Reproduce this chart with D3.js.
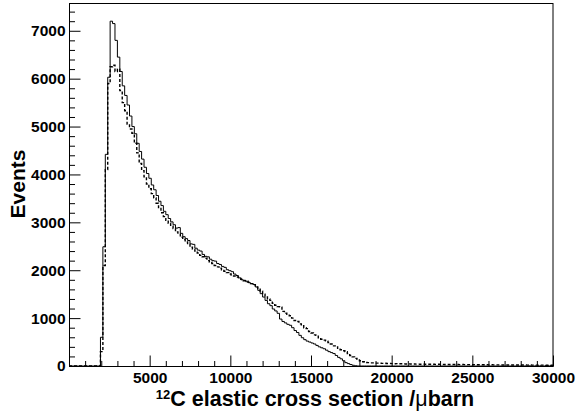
<!DOCTYPE html>
<html><head><meta charset="utf-8">
<script src="https://cdn.jsdelivr.net/npm/d3@7"></script>
<style>html,body{margin:0;padding:0;background:#fff;}svg{display:block;}</style>
</head><body><svg id="c" width="577" height="413"></svg>
<script>
// Histogram binning
const binStart = 0, binWidth = 150, nBins = 200;
const firstFilledBin = 13;
// Solid histogram (from bin 13 = 1950..2100)
const solidValues = [
 600,2490,4420,6030,7200,7150,6800,6450,6150,5850,
 5650,5450,5220,5000,4850,4650,4480,4320,4150,4020,
 3920,3780,3680,3560,3440,3350,3230,3160,3080,3010,
 2950,2880,2890,2770,2700,2660,2620,2550,2540,2460,
 2420,2400,2330,2290,2280,2230,2200,2190,2140,2120,
 2080,2060,2010,1990,1970,1920,1890,1840,1800,1790,
 1760,1740,1720,1700,1650,1580,1510,1440,1370,1300,
 1260,1190,1150,1100,980,930,900,870,850,800,
 740,700,640,590,550,520,500,480,460,430,
 400,380,360,330,300,280,260,220,180,150,
 110,70,50,30,15,5
];
// Dashed histogram (from bin 13)
const dashedValues = [
 300,2100,4100,5900,6250,6280,6150,6200,5750,5500,
 5330,5050,4950,4860,4650,4450,4230,4080,3950,3800,
 3700,3600,3510,3400,3290,3200,3120,3040,2980,2920,
 2870,2800,2760,2690,2640,2590,2540,2480,2440,2400,
 2360,2310,2280,2250,2200,2170,2140,2100,2070,2040,
 2010,1980,1950,1920,1900,1880,1860,1830,1810,1780,
 1770,1750,1720,1700,1650,1620,1560,1500,1440,1400,
 1370,1310,1270,1240,1230,1140,1100,1080,1050,1000,
 950,930,880,840,800,780,720,690,650,640,
 590,560,540,520,490,460,420,400,350,340,
 320,300,260,220,190,160,140,110,90,80,
 70,65,65,60,60,
 58,55,57,52,54,50,48,50,46,47,44,43,45,41,42,39,40,38,39,36,
 37,35,36,34,35,33,34,32,33,31,32,30,31,29,30,29,28,29,27,28,
 26,27,26,25,26,24,25,24,23,24,23,22,23,22,21,22,21,20,21,20,
 20,19,20,19,19,18,19,18,18,17,18,17
];
const xTickValues = [0,5000,10000,15000,20000,25000,30000];
const xTickLabels = ["","5000","10000","15000","20000","25000","30000"];
const yTickValues = [0,1000,2000,3000,4000,5000,6000,7000];
const yTickLabels = ["0","1000","2000","3000","4000","5000","6000","7000"];
const xMax = 30000, yMax = 7580;

function fullBins(vals){
  const a = new Array(nBins).fill(0);
  vals.forEach((v,i)=>{ if(firstFilledBin+i<nBins) a[firstFilledBin+i]=v; });
  return a;
}
const solid = fullBins(solidValues), dashed = fullBins(dashedValues);

const L=69, R=553, T=3, B=366;
const svg = d3.select("#c");
const x = d3.scaleLinear().domain([0,xMax]).range([L,R]);
const y = d3.scaleLinear().domain([0,yMax]).range([B,T]);

function stepPts(arr){
  const p = arr.map((v,i)=>[binStart+i*binWidth, v]);
  p.push([binStart+nBins*binWidth, arr[arr.length-1]]);
  return p;
}
const line = d3.line().x(d=>x(d[0])).y(d=>y(d[1])).curve(d3.curveStepAfter);

svg.append("path").attr("d", line(stepPts(dashed)))
  .attr("fill","none").attr("stroke","#000").attr("stroke-width",1.4)
  .attr("stroke-dasharray","3,2");
svg.append("path").attr("d", line(stepPts(solid)))
  .attr("fill","none").attr("stroke","#000").attr("stroke-width",1);

// frame
svg.append("rect").attr("x",L+0.5).attr("y",T+0.5).attr("width",R-L-0.5).attr("height",B-T)
  .attr("fill","none").attr("stroke","#000").attr("stroke-width",1);

const font = "'Liberation Sans', Arial, Helvetica, sans-serif";
// x axis
const gx = svg.append("g").attr("transform",`translate(0,${B+0.5})`)
  .call(d3.axisBottom(x).tickValues(xTickValues).tickSize(-11).tickPadding(5).tickFormat((d,i)=>xTickLabels[i]));
gx.select(".domain").remove();
gx.selectAll("text").attr("font-family",font).attr("font-weight","bold").attr("font-size","15.5px").attr("fill","#000");
const gxm = svg.append("g").attr("transform",`translate(0,${B+0.5})`)
  .call(d3.axisBottom(x).tickValues(d3.range(0,xMax+1,1000).filter(v=>v%5000)).tickSize(-5.5).tickFormat(""));
gxm.select(".domain").remove();

// y axis
const gy = svg.append("g").attr("transform",`translate(${L+0.5},0)`)
  .call(d3.axisLeft(y).tickValues(yTickValues).tickSize(-11).tickPadding(4).tickFormat((d,i)=>yTickLabels[i]));
gy.select(".domain").remove();
gy.selectAll("text").attr("font-family",font).attr("font-weight","bold").attr("font-size","15.5px").attr("fill","#000");
const gym = svg.append("g").attr("transform",`translate(${L+0.5},0)`)
  .call(d3.axisLeft(y).tickValues(d3.range(0,yMax,200).filter(v=>v%1000)).tickSize(-5.5).tickFormat(""));
gym.select(".domain").remove();
svg.selectAll(".tick line").attr("stroke","#000");

// titles
const xt = svg.append("text").attr("x",315).attr("y",406).attr("text-anchor","middle")
  .attr("font-family",font).attr("font-weight","bold").attr("font-size","21.5px").attr("fill","#000");
xt.append("tspan").attr("font-size","13px").attr("dy","-7").text("12");
xt.append("tspan").attr("dy","7").text("C elastic cross section /");
xt.append("tspan").attr("font-weight","normal").text("μ");
xt.append("tspan").text("barn");

svg.append("text").attr("transform","translate(25,184) rotate(-90)").attr("text-anchor","middle")
  .attr("font-family",font).attr("font-weight","bold").attr("font-size","21px").attr("fill","#000").text("Events");
</script></body></html>
